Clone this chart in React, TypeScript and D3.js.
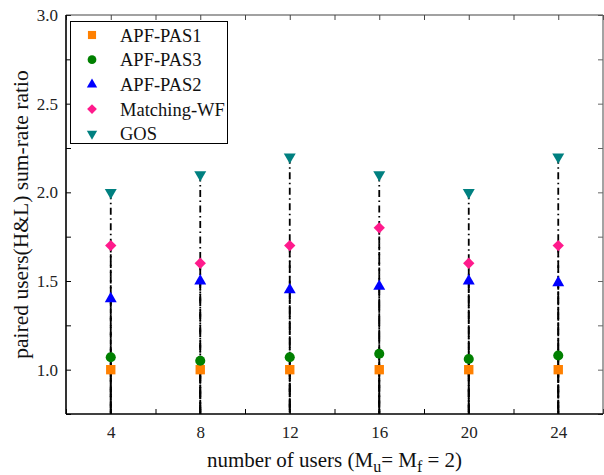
import React, { useRef, useEffect } from "react";
import * as d3 from "d3";

// chart values
const users = [4, 8, 12, 16, 20, 24];
const seriesNames = ["APF-PAS1", "APF-PAS3", "APF-PAS2", "Matching-WF", "GOS"];
const apfPas1 = [1.0, 1.0, 1.0, 1.0, 1.0, 1.0];
const apfPas3 = [1.07, 1.05, 1.07, 1.09, 1.06, 1.08];
const apfPas2 = [1.4, 1.5, 1.45, 1.47, 1.5, 1.49];
const matchingWF = [1.7, 1.6, 1.7, 1.8, 1.6, 1.7];
const gos = [2.0, 2.1, 2.2, 2.1, 2.0, 2.2];
const yTicks = [1.0, 1.5, 2.0, 2.5, 3.0];

const colors = ["#ff8000", "#008000", "#0000ff", "#ff1a8c", "#008080"];
// diamond = square rotated by 45
const symbols = [d3.symbolSquare, d3.symbolCircle, d3.symbolTriangle, d3.symbolSquare, d3.symbolTriangle];
const symbolSizes = [88, 80, 62, 64, 62];
const rotations = [0, 0, 0, 45, 180];

function App() {
  const svgRef = useRef<SVGSVGElement>(null);

  useEffect(() => {
    const svg = d3.select(svgRef.current);
    svg.selectAll("*").remove();
    const width = 604;
    const height = 475;
    const margin = { top: 15, right: 1, bottom: 61, left: 66 };
    const font = "Liberation Serif";

    const x = d3.scaleLinear().domain([2, 26]).range([margin.left, width - margin.right]);
    const y = d3.scaleLinear().domain([0.75, 3.0]).range([height - margin.bottom, margin.top]);

    const allSeries = [apfPas1, apfPas3, apfPas2, matchingWF, gos];

    // drop lines (each point drawn down to the axis)
    const lines = svg.append("g");
    allSeries.forEach(vals => {
      vals.forEach((v, i) => {
        lines.append("line")
          .attr("x1", x(users[i]))
          .attr("x2", x(users[i]))
          .attr("y1", y(v))
          .attr("y2", y(0.75))
          .attr("stroke", "#000")
          .attr("stroke-width", 1.8)
          .attr("stroke-dasharray", "7,3.5,1.5,3.5");
      });
    });

    // axes
    const xMinor = d3.range(2, 26.01, 2);
    const yMinor = d3.range(0.75, 3.01, 0.25);

    svg.append("g")
      .attr("transform", `translate(0,${y(0.75)})`)
      .call(d3.axisBottom(x).tickValues(xMinor).tickSize(-5).tickFormat(() => ""))
      .call(g => g.select(".domain").remove())
      .call(g => g.selectAll("line").attr("stroke", "#000"));

    svg.append("g")
      .attr("transform", `translate(0,${y(0.75)})`)
      .call(d3.axisBottom(x).tickValues(users).tickSize(0).tickPadding(12).tickFormat(d3.format("d")))
      .call(g => g.select(".domain").remove())
      .call(g => g.selectAll("text").attr("font-family", font).attr("font-size", 17).attr("fill", "#222"));

    svg.append("g")
      .attr("transform", `translate(0,${margin.top})`)
      .call(d3.axisTop(x).tickValues(xMinor).tickSize(-5).tickFormat(() => ""))
      .call(g => g.select(".domain").remove())
      .call(g => g.selectAll("line").attr("stroke", "#444"));

    svg.append("g")
      .attr("transform", `translate(${margin.left},0)`)
      .call(d3.axisLeft(y).tickValues(yMinor).tickSize(-5).tickFormat(() => ""))
      .call(g => g.select(".domain").remove())
      .call(g => g.selectAll("line").attr("stroke", "#000"));

    svg.append("g")
      .attr("transform", `translate(${margin.left},0)`)
      .call(d3.axisLeft(y).tickValues(yTicks).tickSize(0).tickPadding(8).tickFormat(d3.format(".1f")))
      .call(g => g.select(".domain").remove())
      .call(g => g.selectAll("text").attr("font-family", font).attr("font-size", 17).attr("fill", "#222"));

    svg.append("g")
      .attr("transform", `translate(${width - margin.right},0)`)
      .call(d3.axisRight(y).tickValues(yMinor).tickSize(-5).tickFormat(() => ""))
      .call(g => g.select(".domain").remove())
      .call(g => g.selectAll("line").attr("stroke", "#666"));

    // frame
    svg.append("line").attr("x1", x(2)).attr("x2", x(26)).attr("y1", y(3)).attr("y2", y(3))
      .attr("stroke", "#444").attr("stroke-width", 1.2);
    svg.append("line").attr("x1", x(26)).attr("x2", x(26)).attr("y1", y(3)).attr("y2", y(0.75))
      .attr("stroke", "#666").attr("stroke-width", 1.2);
    svg.append("line").attr("x1", x(2)).attr("x2", x(2)).attr("y1", y(3)).attr("y2", y(0.75))
      .attr("stroke", "#000").attr("stroke-width", 1.6);
    svg.append("line").attr("x1", x(2)).attr("x2", x(26)).attr("y1", y(0.75)).attr("y2", y(0.75))
      .attr("stroke", "#000").attr("stroke-width", 1.6);

    // markers
    allSeries.forEach((vals, s) => {
      svg.append("g")
        .selectAll("path")
        .data(vals)
        .join("path")
        .attr("d", d3.symbol(symbols[s], symbolSizes[s]))
        .attr("transform", (d, i) => `translate(${x(users[i])},${y(d)}) rotate(${rotations[s]})`)
        .attr("fill", colors[s]);
    });

    // legend
    const legend = svg.append("g");
    legend.append("rect")
      .attr("x", 70.5).attr("y", 21.5).attr("width", 157).attr("height", 122)
      .attr("fill", "#fff").attr("stroke", "#000").attr("stroke-width", 1);
    seriesNames.forEach((name, s) => {
      const ly = 35 + s * 24.7;
      legend.append("path")
        .attr("d", d3.symbol(symbols[s], symbolSizes[s] * 0.75))
        .attr("transform", `translate(92,${ly}) rotate(${rotations[s]})`)
        .attr("fill", colors[s]);
      legend.append("text")
        .attr("x", 120).attr("y", ly + 6.5)
        .attr("font-family", font).attr("font-size", 18.5).attr("fill", "#111")
        .text(name);
    });

    // axis titles
    svg.append("text")
      .attr("transform", `translate(28,${(y(0.75) + y(3)) / 2}) rotate(-90)`)
      .attr("text-anchor", "middle")
      .attr("font-family", font).attr("font-size", 21.5).attr("fill", "#111")
      .text("paired users(H&L) sum-rate ratio");

    const xt = svg.append("text")
      .attr("x", (x(2) + x(26)) / 2).attr("y", 467)
      .attr("text-anchor", "middle")
      .attr("font-family", font).attr("font-size", 21).attr("fill", "#111");
    xt.append("tspan").text("number of users (M");
    xt.append("tspan").attr("dy", 5).attr("font-size", 16).text("u");
    xt.append("tspan").attr("dy", -5).text("= M");
    xt.append("tspan").attr("dy", 5).attr("font-size", 16).text("f");
    xt.append("tspan").attr("dy", -5).text(" = 2)");
  }, []);

  return (
    <svg ref={svgRef} width={604} height={475}
      style={{ position: "absolute", left: 0, top: 0, background: "#fff" }} />
  );
}

export default App;
